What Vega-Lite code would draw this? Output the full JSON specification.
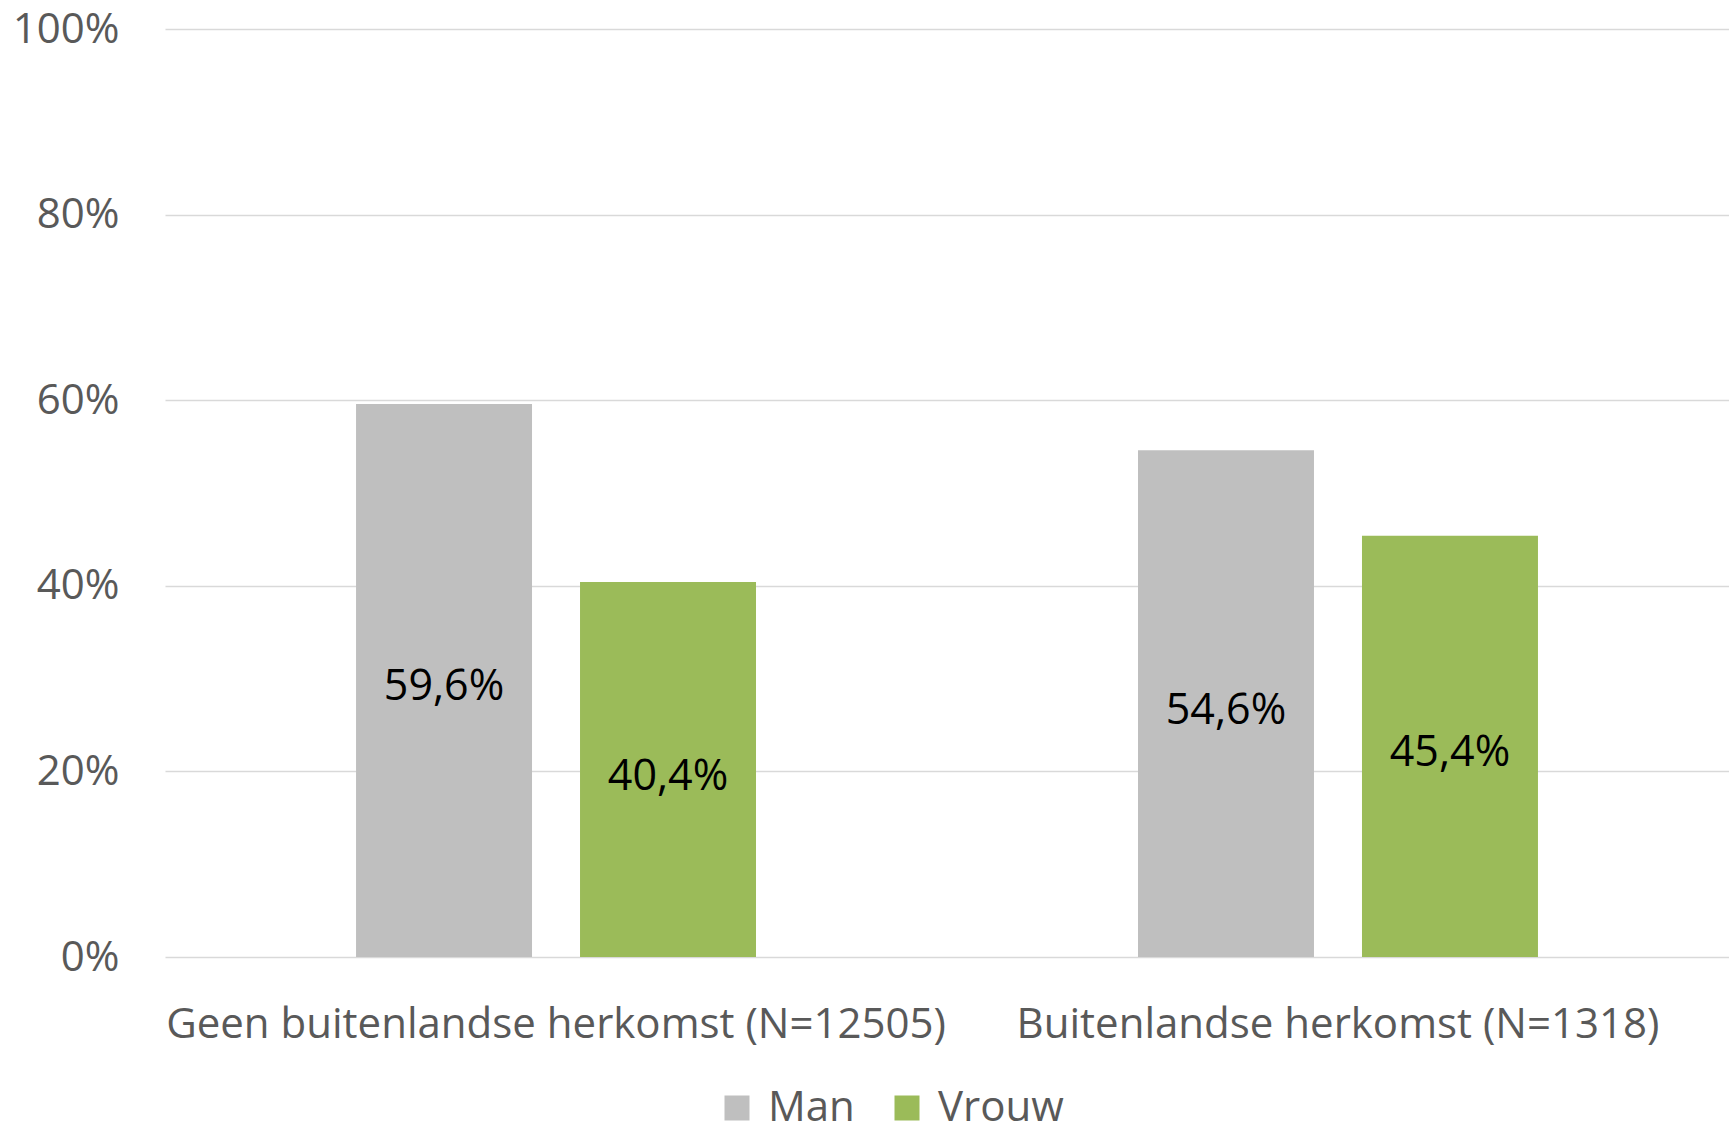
{
  "$schema": "https://vega.github.io/schema/vega-lite/v6.json",
  "width": 1564,
  "height": 928,
  "autosize": {"type": "none"},
  "padding": {"left": 165, "top": 29, "right": 0, "bottom": 174},
  "background": "white",
  "config": {
    "locale": {"number": {"decimal": ",", "thousands": ".", "grouping": [3], "currency": ["€ ", ""]}},
    "view": {"stroke": null},
    "font": "Open Sans"
  },
  "data": {
    "values": [
      {"herkomst": "Geen buitenlandse herkomst (N=12505)", "geslacht": "Man", "pct": 0.596},
      {"herkomst": "Geen buitenlandse herkomst (N=12505)", "geslacht": "Vrouw", "pct": 0.404},
      {"herkomst": "Buitenlandse herkomst (N=1318)", "geslacht": "Man", "pct": 0.546},
      {"herkomst": "Buitenlandse herkomst (N=1318)", "geslacht": "Vrouw", "pct": 0.454}
    ]
  },
  "encoding": {
    "x": {
      "field": "herkomst", "type": "nominal", "sort": null, "title": null,
      "scale": {"paddingInner": 0.4885, "paddingOuter": 0.2443},
      "axis": {"labelAngle": 0, "labelFontSize": 42, "labelColor": "#595959", "domain": false, "ticks": false, "labelPadding": 80, "labelBaseline": "alphabetic", "labelLimit": 0}
    },
    "xOffset": {
      "field": "geslacht", "type": "nominal", "sort": ["Man", "Vrouw"],
      "scale": {"paddingInner": 0.2143, "paddingOuter": 0}
    }
  },
  "layer": [
    {
      "mark": {"type": "bar"},
      "encoding": {
        "y": {
          "field": "pct", "type": "quantitative", "title": null,
          "scale": {"domain": [0, 1]},
          "axis": {"values": [0, 0.2, 0.4, 0.6, 0.8, 1], "format": ".0%", "labelFontSize": 42, "labelColor": "#595959", "gridColor": "#D9D9D9", "gridWidth": 1.5, "domain": false, "ticks": false, "labelPadding": 46}
        },
        "color": {
          "field": "geslacht", "type": "nominal", "title": null,
          "scale": {"domain": ["Man", "Vrouw"], "range": ["#BFBFBF", "#9BBB59"]},
          "legend": {"orient": "none", "legendX": 551, "legendY": 1058, "direction": "horizontal", "symbolType": "square", "symbolSize": 625, "symbolStrokeWidth": 0, "labelFontSize": 42, "labelColor": "#595959", "columnPadding": 31, "labelOffset": 10, "padding": 0}
        }
      }
    },
    {
      "mark": {"type": "text", "fontSize": 43, "color": "black", "baseline": "middle", "dy": 7},
      "encoding": {
        "y": {"field": "pct", "type": "quantitative", "scale": {"domain": [0, 2]}, "axis": null},
        "text": {"field": "pct", "type": "quantitative", "format": ".1%"}
      }
    }
  ],
  "resolve": {"scale": {"y": "independent"}}
}
